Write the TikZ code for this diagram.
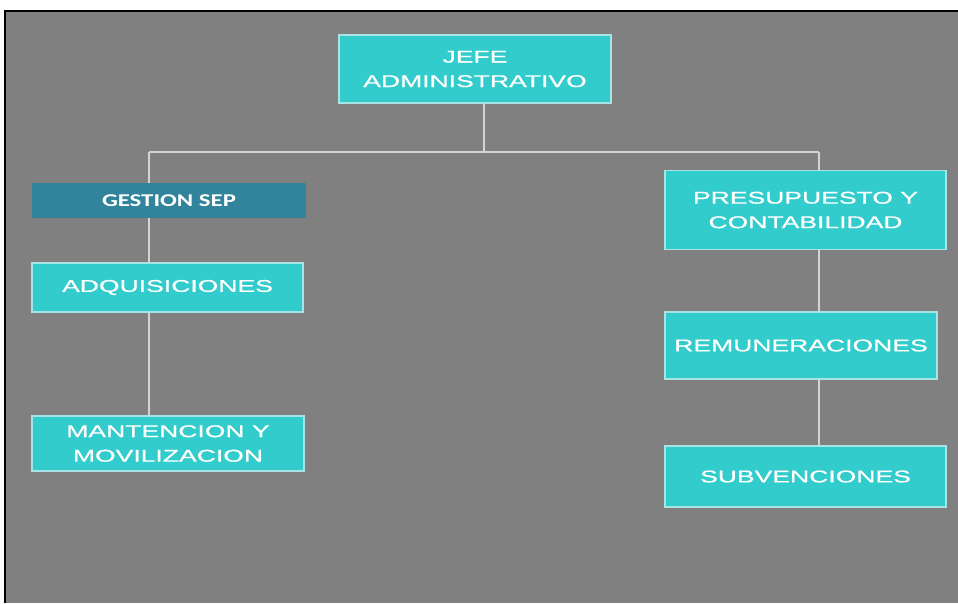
\documentclass[tikz,border=0pt]{standalone}
\usepackage{fontspec}
\newfontfamily\boxfont[FakeStretch=1.56,FakeBold=0.6]{Liberation Sans}
\newfontfamily\gfont[FakeStretch=1.38]{Carlito}
\definecolor{bggray}{HTML}{808080}
\definecolor{turq}{HTML}{33CCCC}
\definecolor{darkteal}{HTML}{31849B}
\definecolor{boxedge}{HTML}{A8E4E4}
\definecolor{linegray}{HTML}{D4D4D4}
\tikzset{
  box/.style={draw=boxedge, line width=1.2pt, fill=turq, inner sep=0pt, align=center,
    text=white, font=\boxfont\fontsize{17}{24.5}\selectfont},
  gbox/.style={fill=darkteal, inner sep=0pt, align=center, text=white,
    font=\gfont\bfseries\fontsize{18}{22}\selectfont},
  conn/.style={draw=linegray, line width=1.6pt}
}
\begin{document}
\begin{tikzpicture}[x=1pt,y=-1pt]
\useasboundingbox (0,0) rectangle (958,603);
\fill[white] (0,0) rectangle (958,603);
\fill[bggray] (5,10) rectangle (958,603);
\draw[black, line width=2pt] (5,603) -- (5,11) -- (958,11);
% coordinates of connector lines
\coordinate (busM) at (484,152);
\coordinate (busL) at (149,152);
\coordinate (busR) at (819,152);
% nodes
\node[box, minimum width=272, minimum height=68] (jefe) at (475,69) {JEFE\\ADMINISTRATIVO};
\node[gbox, minimum width=274, minimum height=35] (gestion) at (169,200.5) {GESTION SEP};
\node[box, minimum width=271, minimum height=49] (adq) at (167.5,287.5) {ADQUISICIONES};
\node[box, minimum width=272, minimum height=55] (mant) at (168,443.5) {MANTENCION Y\\MOVILIZACION};
\node[box, minimum width=281, minimum height=79] (presu) at (805.5,210) {PRESUPUESTO Y\\CONTABILIDAD};
\node[box, minimum width=272, minimum height=67] (remu) at (801,345.5) {REMUNERACIONES};
\node[box, minimum width=281, minimum height=61] (subv) at (805.5,476.5) {SUBVENCIONES};
% connectors
\draw[conn] (jefe.south -| busM) -- (busM);
\draw[conn] (busL) -- (busR);
\draw[conn] (busL) -- (gestion.north -| busL);
\draw[conn] (busR) -- (presu.north -| busR);
\draw[conn] (gestion.south -| busL) -- (adq.north -| busL);
\draw[conn] (adq.south -| busL) -- (mant.north -| busL);
\draw[conn] (presu.south -| busR) -- (remu.north -| busR);
\draw[conn] (remu.south -| busR) -- (subv.north -| busR);
\end{tikzpicture}
\end{document}
